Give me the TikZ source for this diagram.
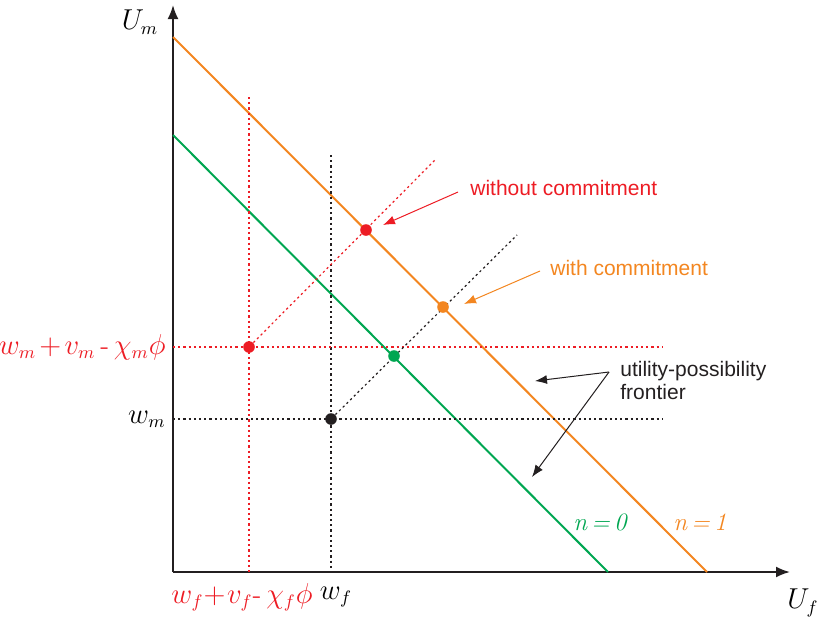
\documentclass[tikz,border=0pt]{standalone}
\usepackage{fontspec}
\setsansfont{Liberation Sans}
\usetikzlibrary{arrows.meta, positioning}
\definecolor{ured}{RGB}{237,28,36}
\definecolor{uorange}{RGB}{243,134,32}
\definecolor{ugreen}{RGB}{0,166,81}
\definecolor{ugray}{RGB}{35,31,32}

\begin{document}
\begin{tikzpicture}[x=0.5pt, y=-0.5pt,
    axis/.style={-{Latex[length=7pt,width=5.5pt]}, line width=1pt, draw=ugray},
    frontier/.style={line width=1pt},
    guide/.style={line width=0.6pt, dash pattern=on 1.1pt off 1.5pt},
    dot/.style={circle, fill, inner sep=0pt, minimum size=5.8pt},
    note/.style={font=\sffamily\fontsize{10.5}{11.5}\selectfont, align=left, inner sep=0pt},
    pointer/.style={-{Latex[length=6pt,width=4.5pt]}, line width=0.5pt},
    mlbl/.style={font=\fontsize{13.5}{16}\selectfont, inner sep=0pt},
    nlbl/.style={font=\fontsize{12.5}{15}\selectfont\itshape, inner sep=0pt},
]
    \useasboundingbox (0,0) rectangle (818,621);

    % --- Axes ---
    \coordinate (O)    at (173,572);
    \coordinate (ytop) at (173,5);
    \coordinate (xend) at (790,572);
    \draw[axis] (O) -- (ytop);
    \draw[axis] (O) -- (xend);
    \node[mlbl] (Um) at (140,22)  {$U_m$};
    \node[mlbl] (Uf) at (803,603) {$U_f$};

    % --- Frontiers ---
    \coordinate (f1a) at (173,37);
    \coordinate (f1b) at (707,572);
    \coordinate (f0a) at (173,135);
    \coordinate (f0b) at (608,572);
    \draw[frontier, uorange] (f1a) -- (f1b);
    \draw[frontier, ugreen]  (f0a) -- (f0b);
    \node[nlbl, ugreen]  (n0) at (600,522) {n\,=\,0};
    \node[nlbl, uorange] (n1) at (700,522) {n\,=\,1};

    % --- Guide lines ---
    \coordinate (rv) at (249,97);
    \coordinate (rb) at (249,572);
    \coordinate (bv) at (331,155);
    \coordinate (bb) at (331,572);
    \coordinate (rh) at (663,347);
    \coordinate (rl) at (173,347);
    \coordinate (bh) at (663,419);
    \coordinate (bl) at (173,419);
    \coordinate (rd) at (435,160);
    \coordinate (bd) at (517,235);
    \draw[guide, ured] (rv) -- (rb);
    \draw[guide, ugray] (bv) -- (bb);
    \draw[guide, ured] (rl) -- (rh);
    \draw[guide, ugray] (bl) -- (bh);

    % --- Threat points and diagonals ---
    \node[dot, ured]  (tr) at (249,347) {};
    \node[dot, ugray] (tb) at (331,419) {};
    \draw[guide, ured]  (tr) -- (rd);
    \draw[guide, ugray] (tb) -- (bd);

    % --- Outcomes ---
    \node[dot, ured]    (nc) at (366,230) {};
    \node[dot, uorange] (wc) at (443,307) {};
    \node[dot, ugreen]  (gc) at (394,356) {};

    % --- Axis labels ---
    \node[mlbl, ured, anchor=east] (lblwm2) at (166,347) {$w_m\mkern2mu{+}\mkern2mu v_m\,\mbox{-}\,\chi_m\phi$};
    \node[mlbl, anchor=east]       (lblwm)  at (166,419) {$w_m$};
    \node[mlbl, ured]              (lblwf2) at (242,597) {$w_f{+}\mkern1mu v_f\mbox{-}\,\chi_f\phi$};
    \node[mlbl]                    (lblwf)  at (336,597) {$w_f$};

    % --- Notes ---
    \node[note, ured, anchor=west]    (lblnc)  at (470,188) {without commitment};
    \node[note, uorange, anchor=west] (lblwc)  at (550,268) {with commitment};
    \node[note, ugray, anchor=west]   (lblupf) at (620,380) {utility-possibility\\frontier};

    \coordinate (tipnc) at (383,225);
    \coordinate (tipwc) at (464,304);
    \coordinate (fork)  at (609,372);
    \coordinate (tip1)  at (535,381);
    \coordinate (tip0)  at (532,477);
    \draw[pointer, ured]    ([shift={(-12,4)}]lblnc.west) -- (tipnc);
    \draw[pointer, uorange] ([shift={(-10,3)}]lblwc.west) -- (tipwc);
    \draw[pointer, ugray] (fork) -- (tip1);
    \draw[pointer, ugray] (fork) -- (tip0);
\end{tikzpicture}
\end{document}
